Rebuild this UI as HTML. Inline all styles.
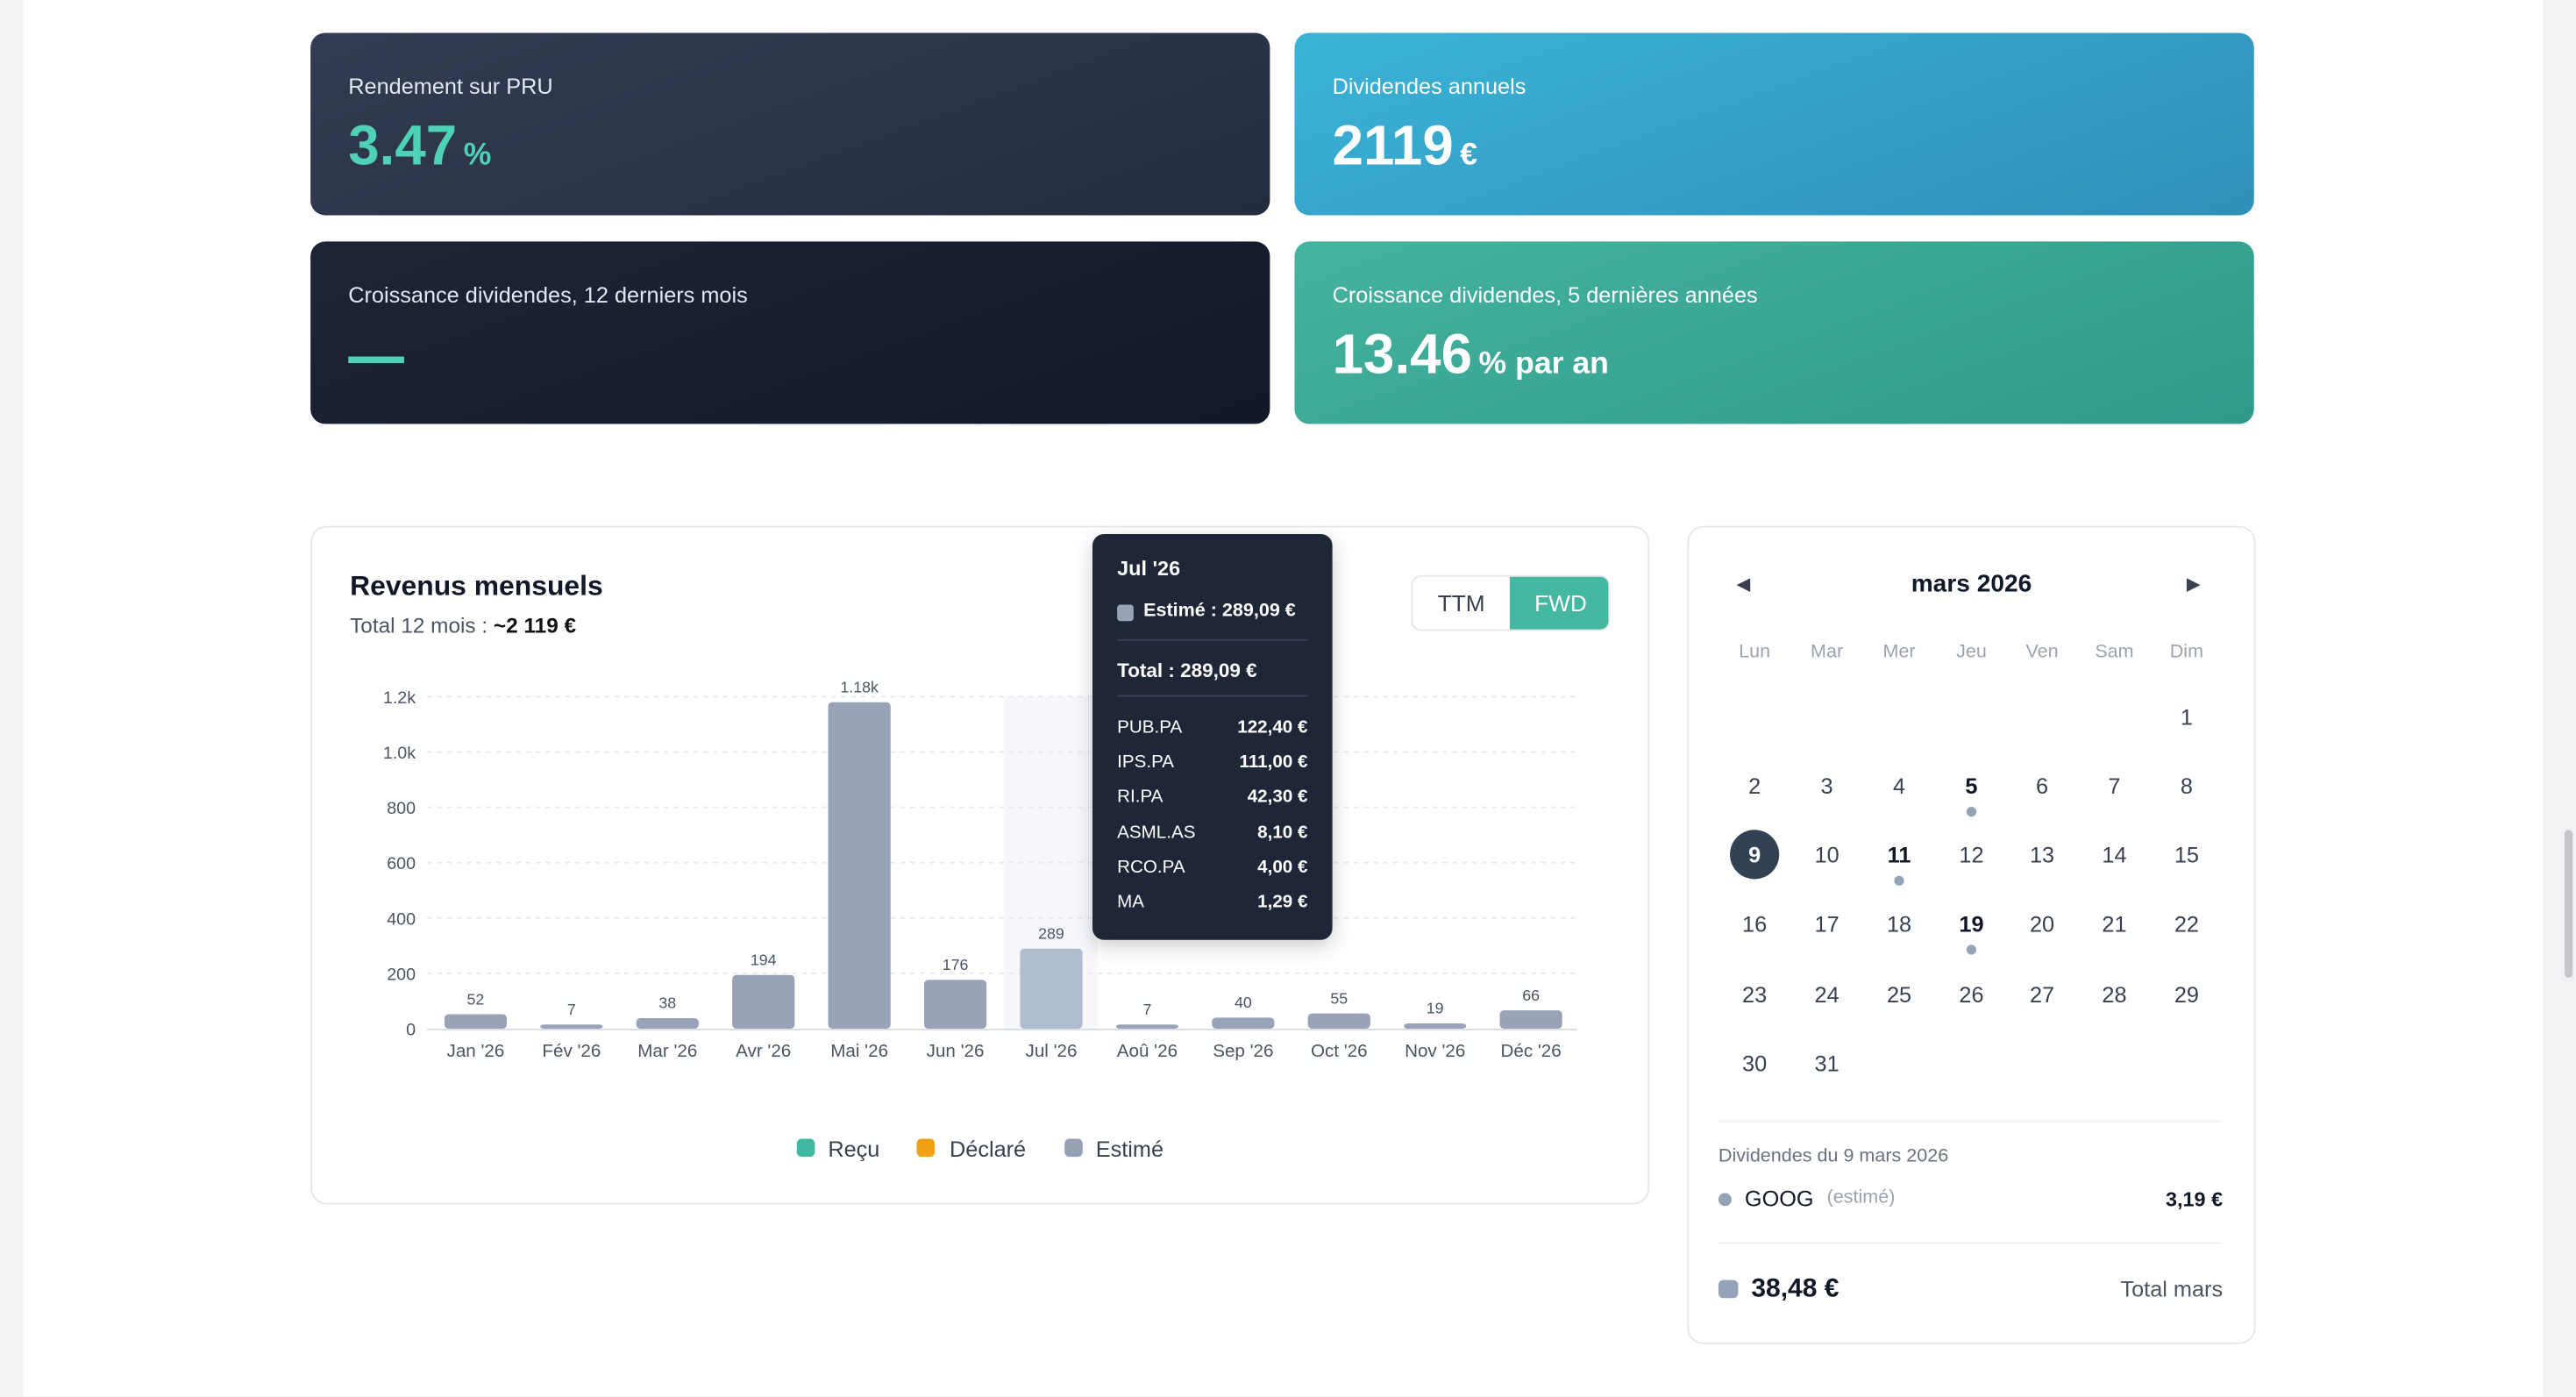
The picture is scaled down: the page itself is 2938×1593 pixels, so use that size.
<!DOCTYPE html>
<html><head><meta charset="utf-8"><style>
*{margin:0;padding:0;box-sizing:border-box}
html,body{width:2938px;height:1592px;overflow:hidden;background:#f1f2f4}
#w{position:absolute;left:0;top:0;width:1568px;height:850px;transform:scale(1.87372);transform-origin:0 0;font-family:"Liberation Sans",Arial,sans-serif;background:#f1f2f4}
.page{position:absolute;left:14px;top:0;width:1534px;height:850px;background:#fff}
.a{position:absolute}
.card{position:absolute;border-radius:9px;color:#fff}
.lbl{position:absolute;left:23px;top:25px;font-size:13.5px;color:#e2e8f0}
.val{position:absolute;left:23px;top:50px;font-size:34px;font-weight:bold;white-space:nowrap}
.val small{font-size:19px;margin-left:4px}
.t{position:absolute;white-space:nowrap}
</style></head><body><div id="w">
<div class="page"></div>
<div class="a" style="left:1561px;top:505px;width:5px;height:90px;border-radius:3px;background:#c4c6ca"></div>

<div class="card" style="left:189px;top:20px;width:584px;height:111px;background:linear-gradient(160deg,#323c52,#242c3f)">
 <div class="lbl">Rendement sur PRU</div>
 <div class="val" style="color:#4fd1b8">3.47<small>%</small></div></div>
<div class="card" style="left:788px;top:20px;width:584px;height:111px;background:linear-gradient(160deg,#3bb3d8,#2f8fb9)">
 <div class="lbl" style="color:#fff">Dividendes annuels</div>
 <div class="val">2119<small>€</small></div></div>
<div class="card" style="left:189px;top:147px;width:584px;height:111px;background:linear-gradient(160deg,#1d2537,#111829)">
 <div class="lbl">Croissance dividendes, 12 derniers mois</div>
 <div class="a" style="left:23px;top:70px;width:34px;height:4px;background:#4fd1b8"></div></div>
<div class="card" style="left:788px;top:147px;width:584px;height:111px;background:linear-gradient(160deg,#45b39e,#2f998a)">
 <div class="lbl" style="color:#fff">Croissance dividendes, 5 dernières années</div>
 <div class="val">13.46<small>% par an</small></div></div>

<div class="a" style="left:189px;top:320px;width:815px;height:413px;border:1px solid #e5e7eb;border-radius:10px;background:#fff"></div>
<div class="t" style="left:213px;top:347px;font-size:17px;font-weight:bold;color:#111827">Revenus mensuels</div>
<div class="t" style="left:213px;top:373px;font-size:13px;color:#4b5563">Total 12 mois : <b style="color:#111">~2 119 €</b></div>
<div class="a" style="left:859px;top:350px;width:121px;height:34px;border:1px solid #e5e7eb;border-radius:6px;overflow:hidden;font-size:14px">
 <div class="a" style="left:0;top:0;width:59px;height:34px;line-height:32px;text-align:center;color:#374151">TTM</div>
 <div class="a" style="left:59px;top:0;width:62px;height:34px;line-height:32px;text-align:center;color:#fff;background:#44b8a0">FWD</div></div>

<svg class="a" style="left:0;top:0" width="1568" height="850" font-family="Liberation Sans,Arial,sans-serif">
<rect x="611" y="424" width="57" height="202" fill="#f5f7fb"/>
<g stroke="#e8eaee" stroke-dasharray="3 3">
<line x1="260" x2="960" y1="424" y2="424"/><line x1="260" x2="960" y1="457.7" y2="457.7"/><line x1="260" x2="960" y1="491.3" y2="491.3"/><line x1="260" x2="960" y1="525" y2="525"/><line x1="260" x2="960" y1="558.7" y2="558.7"/><line x1="260" x2="960" y1="592.3" y2="592.3"/></g>
<line x1="260" x2="960" y1="626.5" y2="626.5" stroke="#d8dce3"/>
<g font-size="10.5" fill="#4b5563" text-anchor="end">
<text x="253" y="428">1.2k</text><text x="253" y="461.7">1.0k</text><text x="253" y="495.3">800</text><text x="253" y="529">600</text><text x="253" y="562.7">400</text><text x="253" y="596.3">200</text><text x="253" y="630">0</text></g>
<g id="bars"></g>
<g font-size="11" fill="#4b5563" text-anchor="middle" id="xl"></g>
<g font-size="9.5" fill="#4b5563" text-anchor="middle" id="vl"></g>
<g font-size="13.5" fill="#374151">
<rect x="485" y="693" width="11" height="11" rx="3" fill="#3fb8a2"/><text x="504" y="704">Reçu</text>
<rect x="558" y="693" width="11" height="11" rx="3" fill="#f0a012"/><text x="578" y="704">Déclaré</text>
<rect x="648" y="693" width="11" height="11" rx="3" fill="#97a1b6"/><text x="667" y="704">Estimé</text></g>
</svg>
<script>
var v=[52,7,38,194,1180,176,289,7,40,55,19,66],m=["Jan '26","Fév '26","Mar '26","Avr '26","Mai '26","Jun '26","Jul '26","Aoû '26","Sep '26","Oct '26","Nov '26","Déc '26"],lab=["52","7","38","194","1.18k","176","289","7","40","55","19","66"];
var b="",x="",l="";
for(var i=0;i<12;i++){var c=289.5+i*58.4,h=Math.max(v[i]*202/1200,2.5),y=626-h;
b+='<rect x="'+(c-19)+'" y="'+y+'" width="38" height="'+h+'" rx="2.5" fill="'+(i==6?'#b0bccf':'#99a3b7')+'"/>';
x+='<text x="'+c+'" y="643">'+m[i]+'</text>';l+='<text x="'+c+'" y="'+(y-6)+'">'+lab[i]+'</text>';}
document.getElementById('bars').innerHTML=b;document.getElementById('xl').innerHTML=x;document.getElementById('vl').innerHTML=l;
</script>

<div class="a" style="left:665px;top:325px;width:146px;height:247px;background:#1f2637;border-radius:7px;box-shadow:0 4px 12px rgba(0,0,0,.2);color:#fff;font-size:11.5px">
 <div class="t" style="left:15px;top:14px;font-weight:bold;font-size:12.5px">Jul '26</div>
 <div class="a" style="left:15px;top:43px;width:10px;height:10px;border-radius:2px;background:#99a3b7"></div>
 <div class="t" style="left:31px;top:41px;font-weight:bold">Estimé : 289,09 €</div>
 <div class="a" style="left:15px;top:64px;width:116px;height:1px;background:#3a4356"></div>
 <div class="t" style="left:15px;top:76px;font-weight:bold;font-size:12px">Total : 289,09 €</div>
 <div class="a" style="left:15px;top:98px;width:116px;height:1px;background:#3a4356"></div>
 <div class="t" style="left:15px;top:108px;line-height:21.2px;font-size:11px">PUB.PA<br>IPS.PA<br>RI.PA<br>ASML.AS<br>RCO.PA<br>MA</div>
 <div class="t" style="right:15px;top:108px;line-height:21.2px;font-size:11px;font-weight:bold;text-align:right">122,40 €<br>111,00 €<br>42,30 €<br>8,10 €<br>4,00 €<br>1,29 €</div>
</div>

<div class="a" style="left:1027px;top:320px;width:346px;height:498px;border:1px solid #e5e7eb;border-radius:10px;background:#fff"></div>
<div class="t" style="left:1057px;top:349px;font-size:11px;color:#374151">◀</div>
<div class="t" style="left:1331px;top:349px;font-size:11px;color:#374151">▶</div>
<div class="t" style="left:1100px;width:200px;top:347px;text-align:center;font-size:15px;font-weight:bold;color:#111827">mars 2026</div>
<div id="cal"></div>
<script>
var cx=[1068,1112,1156,1200,1243,1287,1331],dn=["Lun","Mar","Mer","Jeu","Ven","Sam","Dim"],h="";
for(var i=0;i<7;i++)h+='<div class="t" style="left:'+(cx[i]-25)+'px;width:50px;text-align:center;top:391px;font-size:11.5px;color:#9ca3af">'+dn[i]+'</div>';
var ry=[436,478,520,562,605,647];
for(var d=1;d<=31;d++){var p=d+5,r=Math.floor(p/7),c=p%7,x=cx[c],y=ry[r];
if(d==9)h+='<div class="a" style="left:'+(x-15)+'px;top:'+(y-15)+'px;width:30px;height:30px;border-radius:50%;background:#334155"></div>';
var col=d==9?'#fff':([5,11,19].indexOf(d)>=0?'#111827':'#374151'),fw=(d==9||[5,11,19].indexOf(d)>=0)?'bold':'normal';
h+='<div class="t" style="left:'+(x-20)+'px;width:40px;text-align:center;top:'+(y-7)+'px;font-size:13.5px;color:'+col+';font-weight:'+fw+'">'+d+'</div>';
if([5,11,19].indexOf(d)>=0)h+='<div class="a" style="left:'+(x-3)+'px;top:'+(y+13)+'px;width:6px;height:6px;border-radius:50%;background:#94a3b8"></div>';}
document.getElementById('cal').innerHTML=h;
</script>
<div class="a" style="left:1046px;top:682px;width:306px;height:1px;background:#eef0f3"></div>
<div class="t" style="left:1046px;top:698px;font-size:11.5px;color:#6b7280">Dividendes du 9 mars 2026</div>
<div class="a" style="left:1046px;top:726px;width:8px;height:8px;border-radius:50%;background:#94a3b8"></div>
<div class="t" style="left:1062px;top:722px;font-size:13.5px;color:#111827">GOOG</div>
<div class="t" style="left:1112px;top:723px;font-size:11.5px;color:#9ca3af">(estimé)</div>
<div class="t" style="right:215px;top:723px;font-size:12.5px;font-weight:bold;color:#111827">3,19 €</div>
<div class="a" style="left:1046px;top:756px;width:306px;height:1px;background:#eef0f3"></div>
<div class="a" style="left:1046px;top:779px;width:12px;height:11px;border-radius:3px;background:#94a3b8"></div>
<div class="t" style="left:1066px;top:776px;font-size:16px;font-weight:bold;color:#111827">38,48 €</div>
<div class="t" style="right:215px;top:777px;font-size:13.5px;color:#4b5563">Total mars</div>
</div></body></html>
